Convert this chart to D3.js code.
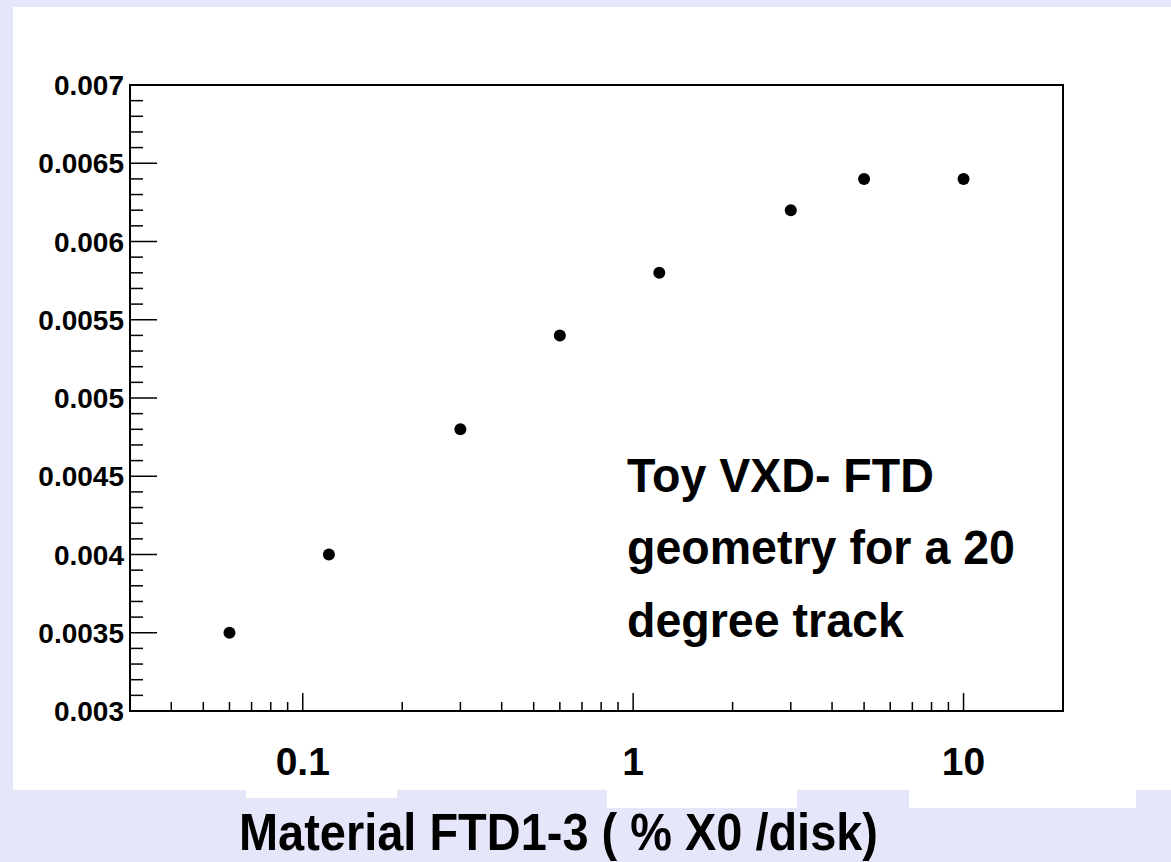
<!DOCTYPE html>
<html>
<head>
<meta charset="utf-8">
<script src="https://cdn.jsdelivr.net/npm/d3@7"></script>
<style>
	html, body { margin: 0; padding: 0; background: #e6e6fa; }
	svg { display: block; }
	text { font-family: "Liberation Sans", Arial, Helvetica, sans-serif; font-weight: bold; fill: #000; }
</style>
</head>
<body>
<script>
// material budget of FTD1-3 (% X0 / disk)
const material = [0.06, 0.12, 0.3, 0.6, 1.2, 3, 5, 10];
// value read on the y axis
const resolution = [0.0035, 0.004, 0.0048, 0.0054, 0.0058, 0.0062, 0.0064, 0.0064];

const xDecades = [0.1, 1, 10];
const xTickLabels = ['0.1', '1', '10'];
const yMajor = [0.003, 0.0035, 0.004, 0.0045, 0.005, 0.0055, 0.006, 0.0065, 0.007];
const yTickLabels = ['0.003', '0.0035', '0.004', '0.0045', '0.005', '0.0055', '0.006', '0.0065', '0.007'];
const noteLines = ['Toy VXD- FTD', 'geometry for a 20', 'degree track'];
const xTitle = 'Material FTD1-3 ( % X0 /disk)';

document.addEventListener('DOMContentLoaded', () => {
	let width = 1171;
	let height = 862;
	let frame = { left: 130, right: 1063, top: 85, bottom: 711 };

	let svg = d3.select('body')
		.append('svg:svg')
		.attr('width', width)
		.attr('height', height);

	// pad + white patches left under the labels
	svg.append('rect')
		.attr('x', 13).attr('y', 7)
		.attr('width', width - 13).attr('height', 790 - 7)
		.style('fill', '#fff');
	[[246, 397, 798], [607, 797, 808], [909, 1136, 808]].forEach(p => {
		svg.append('rect')
			.attr('x', p[0]).attr('y', 789)
			.attr('width', p[1] - p[0]).attr('height', p[2] - 789)
			.style('fill', '#fff');
	});

	let x = d3.scaleLog()
		.domain([0.03, 20])
		.range([frame.left, frame.right]);
	let y = d3.scaleLinear()
		.domain([0.003, 0.007])
		.range([frame.bottom, frame.top]);

	// x ticks, drawn upward from the bottom frame
	let isDecade = v => xDecades.some(d => Math.abs(d - v) < 1e-9);
	svg.append('g').selectAll('line')
		.data(x.ticks().filter(v => x(v) > frame.left + 1 && x(v) < frame.right - 1))
		.enter().append('line')
		.attr('x1', d => x(d)).attr('x2', d => x(d))
		.attr('y1', frame.bottom)
		.attr('y2', d => frame.bottom - (isDecade(d) ? 18 : 9))
		.style('stroke', '#000')
		.style('stroke-width', 1.5);

	// y ticks, minor every 0.0001
	let yTicks = d3.range(41).map(i => 0.003 + i * 0.0001);
	svg.append('g').selectAll('line')
		.data(yTicks)
		.enter().append('line')
		.attr('x1', frame.left)
		.attr('x2', (d, i) => frame.left + (i % 5 === 0 ? 27 : 13))
		.attr('y1', d => y(d)).attr('y2', d => y(d))
		.style('stroke', '#000')
		.style('stroke-width', 1.5);

	svg.append('rect')
		.attr('x', frame.left).attr('y', frame.top)
		.attr('width', frame.right - frame.left)
		.attr('height', frame.bottom - frame.top)
		.style('fill', 'none')
		.style('stroke', '#000')
		.style('stroke-width', 2);

	svg.append('g').selectAll('text')
		.data(yMajor)
		.enter().append('text')
		.attr('x', 124)
		.attr('y', d => y(d))
		.attr('dy', '0.36em')
		.attr('text-anchor', 'end')
		.style('font-size', '28px')
		.text((d, i) => yTickLabels[i]);

	svg.append('g').selectAll('text')
		.data(xDecades)
		.enter().append('text')
		.attr('x', d => x(d))
		.attr('y', 775)
		.attr('text-anchor', 'middle')
		.style('font-size', '39px')
		.text((d, i) => xTickLabels[i]);

	svg.append('g').selectAll('circle')
		.data(material)
		.enter().append('circle')
		.attr('cx', d => x(d))
		.attr('cy', (d, i) => y(resolution[i]))
		.attr('r', 6)
		.style('fill', '#000');

	let note = svg.append('g')
		.attr('transform', 'translate(627,0) scale(0.97,1)');
	note.selectAll('text')
		.data(noteLines)
		.enter().append('text')
		.attr('x', 0)
		.attr('y', (d, i) => 492 + i * 72.5)
		.style('font-size', '48px')
		.text(d => d);

	svg.append('text')
		.attr('x', 239)
		.attr('y', 850)
		.attr('textLength', 639)
		.attr('lengthAdjust', 'spacingAndGlyphs')
		.style('font-size', '52px')
		.text(xTitle);
});
</script>
</body>
</html>
